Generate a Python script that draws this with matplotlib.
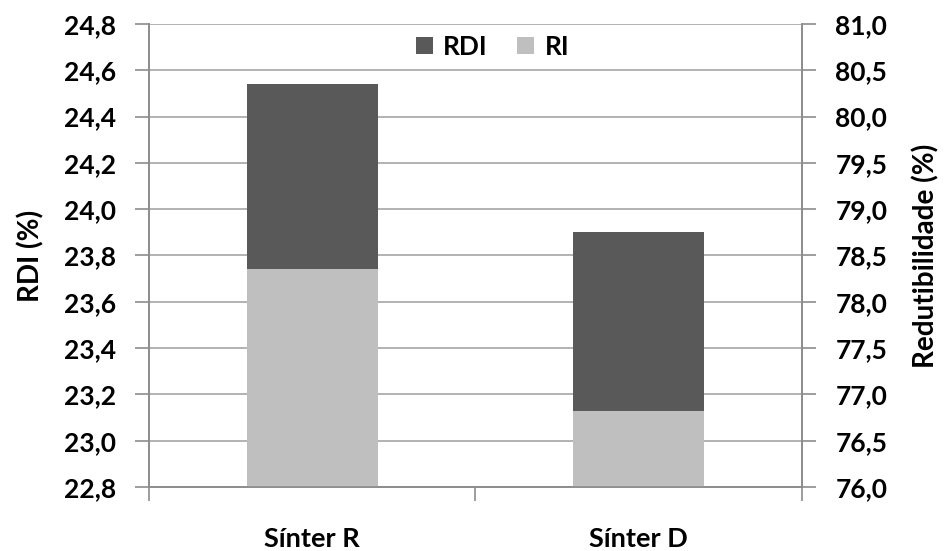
import matplotlib.pyplot as plt
import matplotlib.ticker as mticker
import numpy as np

plt.rcParams['font.family'] = ['Lato', 'DejaVu Sans']
plt.rcParams['font.weight'] = 'bold'
plt.rcParams['axes.labelweight'] = 'bold'

# data
categories = ['Sínter R', 'Sínter D']
rdi = [24.54, 23.90]   # left axis, RDI (%)
ri = [78.35, 76.82]    # right axis, Redutibilidade (%)

dark = '#595959'
light = '#bfbfbf'
axis_gray = '#8c8c8c'

x = np.arange(len(categories))

fig = plt.figure(figsize=(9.47, 5.51), dpi=100)
ax = fig.add_axes([0.1573, 0.1162, 0.6896, 0.8402])
ax2 = ax.twinx()

ax.bar(x, rdi, width=0.4, color=dark, label='RDI', zorder=2)
ax2.bar(x, ri, width=0.4, color=light, label='RI', zorder=2)

ax.set_ylim(22.8, 24.8)
ax2.set_ylim(76.0, 81.0)
ax.set_xlim(-0.5, 1.5)

fmt = mticker.FuncFormatter(lambda v, p: f'{v:.1f}'.replace('.', ','))
ax.yaxis.set_major_locator(mticker.MultipleLocator(0.2))
ax2.yaxis.set_major_locator(mticker.MultipleLocator(0.5))
ax.yaxis.set_major_formatter(fmt)
ax2.yaxis.set_major_formatter(fmt)

ax.set_axisbelow(True)
ax.grid(axis='y', color='#a6a6a6', linewidth=1.2)

# category labels, with tick marks between categories
ax.set_xticks(x)
ax.set_xticklabels(categories, fontweight='bold')
ax.set_xticks([-0.5, 0.5, 1.5], minor=True)
ax.tick_params(axis='x', which='major', length=0, pad=29, labelsize=19.5)
ax.tick_params(axis='x', which='minor', length=10, color=axis_gray, width=1.2)

ax.tick_params(axis='y', length=10, color=axis_gray, width=1.2, labelsize=19, pad=14)
ax2.tick_params(axis='y', length=10, color=axis_gray, width=1.2, labelsize=19, pad=14)
for lab in ax.get_yticklabels() + ax2.get_yticklabels():
    lab.set_fontweight('bold')

for a in (ax, ax2):
    a.spines['top'].set_visible(False)
    for s in ('left', 'right', 'bottom'):
        a.spines[s].set_color(axis_gray)
        a.spines[s].set_linewidth(1.2)

ax.set_ylabel('RDI (%)', fontsize=20, fontweight='bold', labelpad=14)
ax2.set_ylabel('Redutibilidade (%)', fontsize=20, fontweight='bold', labelpad=18)

h1, l1 = ax.get_legend_handles_labels()
h2, l2 = ax2.get_legend_handles_labels()
ax2.legend(h1 + h2, l1 + l2, loc='center', bbox_to_anchor=(0.52, 0.915),
           bbox_transform=fig.transFigure, ncol=2, frameon=False,
           prop={'size': 19, 'weight': 'bold'}, handlelength=0.65, handleheight=0.65,
           handletextpad=0.4, columnspacing=1.1)

fig.savefig('out.png', dpi=100)
